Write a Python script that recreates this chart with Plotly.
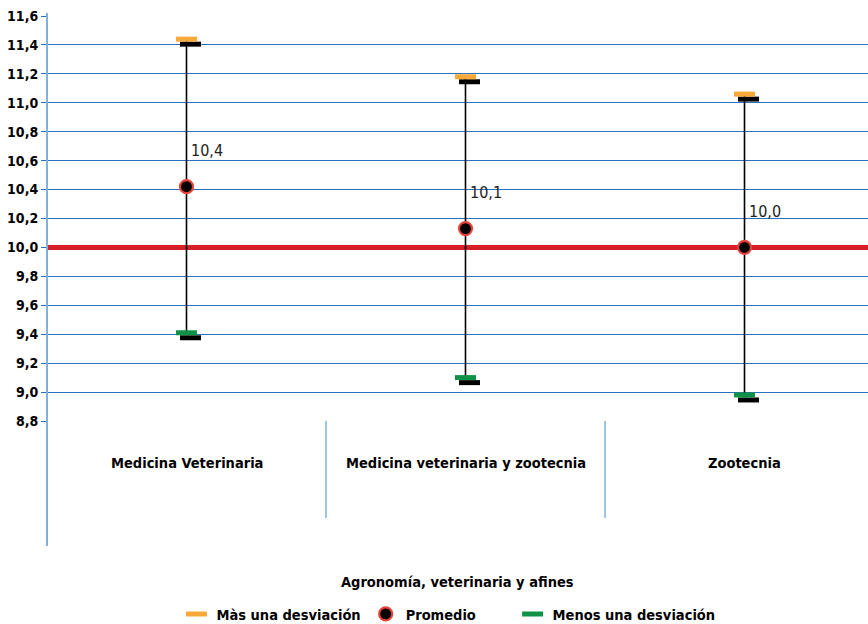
import plotly.graph_objects as go

# Program groups and their summary statistics
categories = ["Medicina Veterinaria", "Medicina veterinaria y zootecnia", "Zootecnia"]
promedio = [10.42, 10.13, 10.00]
mas_desviacion = [11.44, 11.18, 11.06]
menos_desviacion = [9.41, 9.10, 8.98]
reference_value = 10.0
group_title = "Agronomía, veterinaria y afines"
series_names = ["Màs una desviación", "Promedio", "Menos una desviación"]

y_ticks = [8.8, 9.0, 9.2, 9.4, 9.6, 9.8, 10.0, 10.2, 10.4, 10.6, 10.8, 11.0, 11.2, 11.4, 11.6]

# Figure geometry (px)
W, H = 868, 624
M_L, M_R, M_T, M_B = 47, 0, 16, 203
CAT_PX = 279  # width of one category band
plot_w = W - M_L - M_R
plot_h = H - M_T - M_B
x_range = [-0.5, -0.5 + plot_w / CAT_PX]
y_range = [y_ticks[0], y_ticks[-1]]
px_x = plot_w / (x_range[1] - x_range[0])
px_y = plot_h / (y_range[1] - y_range[0])


def paper_y(px):
    """Convert a pixel row of the page into a paper y coordinate."""
    return (H - M_B - px) / plot_h


# drop-shadow offset for the deviation dashes
sh_dx = 4 / px_x
sh_dy = 5 / px_y

FONT = "DejaVu Sans Condensed, DejaVu Sans, sans-serif"
ORANGE = "#f9a93a"
GREEN = "#0f9147"
RED_LINE = "#d71f26"
RING = "#e8413a"
GRID = "#2a72bf"
AXIS = "#7fb0de"

xs = list(range(len(categories)))

fig = go.Figure()

# reference line at the overall value (drawn first, above the grid)
fig.add_trace(go.Scatter(x=x_range, y=[reference_value, reference_value], mode="lines",
                         line=dict(color=RED_LINE, width=5), showlegend=False, hoverinfo="skip",
                         cliponaxis=False))

# vertical whiskers from +1 sd to -1 sd
wx, wy = [], []
for i in xs:
    wx += [i, i, None]
    wy += [mas_desviacion[i], menos_desviacion[i], None]
fig.add_trace(go.Scatter(x=wx, y=wy, mode="lines", line=dict(color="black", width=1.6),
                         showlegend=False, hoverinfo="skip"))

dash = dict(symbol="line-ew-open", size=15)

# shadows of the deviation dashes
fig.add_trace(go.Scatter(x=[i + sh_dx for i in xs] * 2,
                         y=[v - sh_dy for v in mas_desviacion] + [v - sh_dy for v in menos_desviacion],
                         mode="markers",
                         marker=dict(**dash, color="black", line=dict(color="black", width=5)),
                         showlegend=False, hoverinfo="skip"))

# legend entries get a little trailing room to space the items out
legend_pad = ["", "&nbsp;" * 7, ""]

fig.add_trace(go.Scatter(x=xs, y=mas_desviacion, mode="markers", name=series_names[0] + legend_pad[0],
                         marker=dict(**dash, color=ORANGE, line=dict(color=ORANGE, width=5))))
fig.add_trace(go.Scatter(x=xs, y=promedio, mode="markers", name=series_names[1] + legend_pad[1],
                         marker=dict(symbol="circle", size=13, color="black", line=dict(color=RING, width=2.2))))
fig.add_trace(go.Scatter(x=xs, y=menos_desviacion, mode="markers", name=series_names[2] + legend_pad[2],
                         marker=dict(**dash, color=GREEN, line=dict(color=GREEN, width=5))))

# left axis line, extending down through the category band
fig.add_shape(type="line", xref="paper", x0=0, x1=0, yref="paper",
              y0=paper_y(546), y1=paper_y(13), line=dict(color=AXIS, width=2), layer="above")

# separators between category bands
for b in [0.5, 1.5]:
    fig.add_shape(type="line", xref="x", x0=b, x1=b, yref="paper",
                  y0=paper_y(518), y1=0, line=dict(color=AXIS, width=1.5))

# value labels for the means
for i in xs:
    fig.add_annotation(x=i, y=promedio[i], text=f"{promedio[i]:.1f}".replace(".", ","),
                       showarrow=False, xanchor="left", yanchor="middle", xshift=2, yshift=36,
                       font=dict(family=FONT, size=16, color="#222"))

# category names
for i, c in enumerate(categories):
    fig.add_annotation(x=i, y=paper_y(463), yref="paper", text=f"<b>{c}</b>",
                       showarrow=False, xanchor="center", yanchor="middle",
                       font=dict(family=FONT, size=14.5, color="black"))

fig.add_annotation(x=0.5, xref="paper", xanchor="center", y=paper_y(582), yref="paper",
                   yanchor="middle", text=f"<b>{group_title}</b>", showarrow=False,
                   font=dict(family=FONT, size=14.5, color="black"))

fig.update_layout(
    width=W, height=H,
    margin=dict(l=M_L, r=M_R, t=M_T, b=M_B, pad=0, autoexpand=False),
    paper_bgcolor="white", plot_bgcolor="white",
    separators=",.",
    font=dict(family=FONT, color="black"),
    showlegend=True,
    legend=dict(orientation="h", x=0.489, xanchor="center", y=paper_y(614), yanchor="middle",
                font=dict(family=FONT, size=14.5, color="black", weight="bold"),
                itemwidth=30, tracegroupgap=0, bgcolor="rgba(0,0,0,0)"),
    xaxis=dict(range=x_range, showgrid=False, zeroline=False, showticklabels=False,
               showline=False, ticks="", fixedrange=True),
    yaxis=dict(range=y_range, tickvals=y_ticks, tickformat=".1f", showgrid=True,
               gridcolor=GRID, gridwidth=1.3, zeroline=False, showline=False,
               ticks="outside", ticklen=5, tickcolor=GRID, tickwidth=1.3,
               tickfont=dict(family=FONT, size=14, color="black", weight="bold"),
               fixedrange=True),
)

fig.write_html("out.html")
